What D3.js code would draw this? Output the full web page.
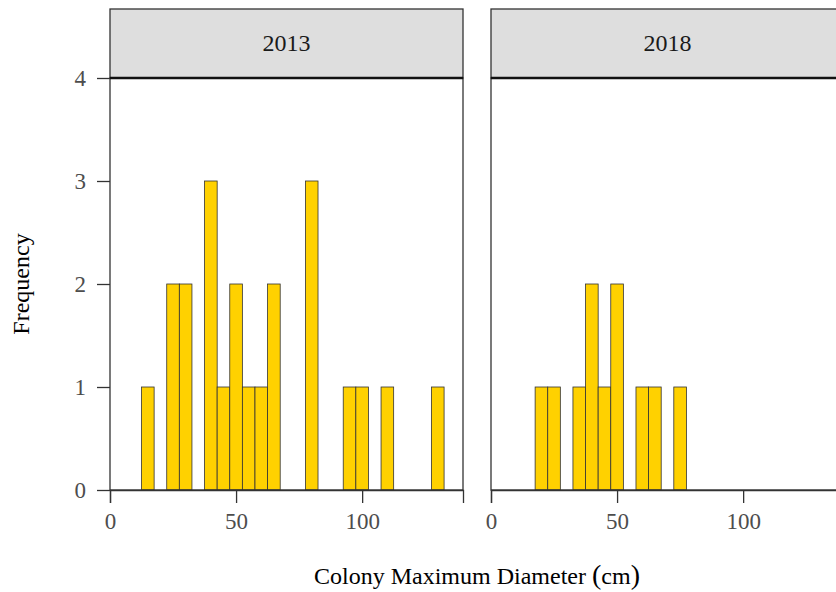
<!DOCTYPE html>
<html>
<head>
<meta charset="utf-8">
<script src="https://cdn.jsdelivr.net/npm/d3@7"></script>
<style>
  body { margin: 0; background: #fff; }
  text { font-family: "Liberation Serif", "DejaVu Serif", serif; }
</style>
</head>
<body>
<script>
// histogram data, bin width 5 (bin midpoints and counts)
var years = ["2013", "2018"];
var mids2013 = [15, 25, 30, 40, 45, 50, 55, 60, 65, 80, 95, 100, 110, 130];
var counts2013 = [1, 2, 2, 3, 1, 2, 1, 1, 2, 3, 1, 1, 1, 1];
var mids2018 = [20, 25, 35, 40, 45, 50, 60, 65, 75];
var counts2018 = [1, 1, 1, 2, 1, 2, 1, 1, 1];
var binWidth = 5;
var xTicks = [0, 50, 100];
var yTicks = [0, 1, 2, 3, 4];

var svgWidth = 836;
var svgHeight = 592;

var margin = { top: 78, left: 110, bottom: 102 };
var panelW = 353;
var panelGap = 28;
var height = svgHeight - margin.top - margin.bottom;
var stripH = 69;

var svg = d3.select("body")
  .append("svg")
  .attr("width", svgWidth)
  .attr("height", svgHeight);

var x = d3.scaleLinear().domain([0, 140]).range([0, panelW]);
var y = d3.scaleLinear().domain([0, 4]).range([height, 0]);

var panels = [
  { year: years[0], data: mids2013.map((m, i) => ({ mid: m, n: counts2013[i] })) },
  { year: years[1], data: mids2018.map((m, i) => ({ mid: m, n: counts2018[i] })) }
];

panels.forEach(function (p, k) {
  var g = svg.append("g")
    .attr("transform", `translate(${margin.left + k * (panelW + panelGap)}, ${margin.top})`);

  // bars
  g.selectAll("rect.bar")
    .data(p.data)
    .enter()
    .append("rect")
    .attr("class", "bar")
    .attr("x", d => x(d.mid - binWidth / 2))
    .attr("width", d => x(d.mid + binWidth / 2) - x(d.mid - binWidth / 2))
    .attr("y", d => y(d.n))
    .attr("height", d => y(0) - y(d.n))
    .attr("fill", "#FFD100")
    .attr("stroke", "#333")
    .attr("stroke-width", 0.8);

  // panel border
  g.append("rect")
    .attr("width", panelW)
    .attr("height", height)
    .attr("fill", "none")
    .attr("stroke", "#333")
    .attr("stroke-width", 1.3);

  // strip
  g.append("rect")
    .attr("y", -stripH)
    .attr("width", panelW)
    .attr("height", stripH)
    .attr("fill", "#dedede")
    .attr("stroke", "#333")
    .attr("stroke-width", 1.3);
  g.append("line")
    .attr("x1", 0).attr("x2", panelW)
    .attr("y1", 0).attr("y2", 0)
    .attr("stroke", "#111")
    .attr("stroke-width", 2.5);
  g.append("text")
    .attr("x", panelW / 2)
    .attr("y", -stripH / 2)
    .attr("dy", "0.33em")
    .attr("text-anchor", "middle")
    .attr("font-size", 24)
    .attr("fill", "#1a1a1a")
    .text(p.year);

  // x axis
  var xAxis = g.append("g")
    .attr("transform", `translate(0, ${height})`)
    .call(d3.axisBottom(x).tickValues(xTicks).tickSize(13).tickPadding(10));
  xAxis.select(".domain").attr("stroke", "#333").attr("stroke-width", 1.3);
  xAxis.selectAll(".tick line").attr("stroke", "#333").attr("stroke-width", 1.3);
  xAxis.selectAll("text").attr("font-size", 23).attr("fill", "#4d4d4d")
    .style("font-family", "Liberation Serif");

  // y axis on first panel only
  if (k === 0) {
    var yAxis = g.append("g")
      .call(d3.axisLeft(y).tickValues(yTicks).tickFormat(d3.format("d")).tickSize(13).tickPadding(11));
    yAxis.select(".domain").remove();
    yAxis.selectAll(".tick line").attr("stroke", "#333").attr("stroke-width", 1.3);
    yAxis.selectAll("text").attr("font-size", 23).attr("fill", "#4d4d4d")
      .style("font-family", "Liberation Serif");
  }
});

// axis titles
var xTitle = svg.append("text")
  .attr("x", margin.left + (2 * panelW + panelGap) / 2)
  .attr("y", 584)
  .attr("text-anchor", "middle")
  .attr("font-size", 24);
xTitle.append("tspan").text("Colony Maximum Diameter ");
xTitle.append("tspan").attr("font-size", 28).text("(");
xTitle.append("tspan").text("cm");
xTitle.append("tspan").attr("font-size", 28).text(")");

svg.append("text")
  .attr("transform", `translate(29, ${margin.top + height / 2}) rotate(-90)`)
  .attr("text-anchor", "middle")
  .attr("font-size", 24)
  .text("Frequency");
</script>
</body>
</html>
